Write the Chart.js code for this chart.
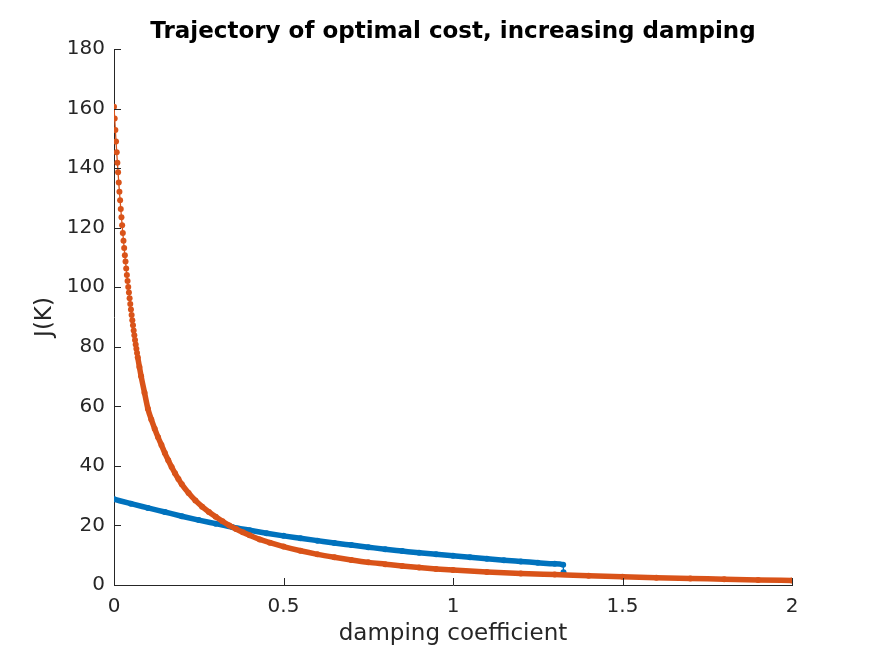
<!DOCTYPE html>
<html>
<head>
<meta charset="utf-8">
<script src="https://cdn.jsdelivr.net/npm/chart.js@4/dist/chart.umd.min.js"></script>
<style>
  html, body { margin: 0; padding: 0; background: #ffffff; }
  #wrap { width: 875px; height: 656px; }
</style>
</head>
<body>
<div id="wrap"><canvas id="c" width="875" height="656"></canvas></div>
<script>
const titleText = "Trajectory of optimal cost, increasing damping";
const xLabel = "damping coefficient";
const yLabel = "J(K)";
const xTickValues = [0, 0.5, 1, 1.5, 2];
const yTickValues = [0, 20, 40, 60, 80, 100, 120, 140, 160, 180];

const blueX = [0, 0.05, 0.1, 0.15, 0.2, 0.25, 0.3, 0.35, 0.4, 0.45, 0.5, 0.55, 0.6, 0.65, 0.7, 0.75, 0.8, 0.85, 0.9, 0.95, 1.0, 1.05, 1.1, 1.15, 1.2, 1.25, 1.3, 1.325, 1.326];
const blueY = [28.8, 27.3, 25.9, 24.5, 23.1, 21.8, 20.6, 19.4, 18.4, 17.4, 16.5, 15.7, 14.9, 14.1, 13.4, 12.7, 12.0, 11.4, 10.8, 10.3, 9.8, 9.3, 8.8, 8.3, 7.9, 7.5, 7.1, 6.8, 4.3];

const orangeX = [0, 0.002, 0.004, 0.006, 0.008, 0.010, 0.012, 0.014, 0.016, 0.018, 0.020, 0.022, 0.024, 0.026, 0.028, 0.030, 0.032, 0.034, 0.036, 0.038, 0.040, 0.042, 0.044, 0.046, 0.048,
  0.050, 0.052, 0.054, 0.056, 0.058, 0.060, 0.062, 0.064, 0.066, 0.068, 0.070,
  0.075, 0.08, 0.09, 0.1,
  0.11, 0.12, 0.13, 0.14, 0.15, 0.16, 0.17, 0.18, 0.19, 0.2,
  0.22, 0.24, 0.26, 0.28, 0.3, 0.32, 0.34, 0.36, 0.38, 0.4,
  0.43, 0.46, 0.5,
  0.55, 0.6, 0.65, 0.7, 0.75, 0.8, 0.85, 0.9, 0.95, 1.0,
  1.1, 1.2, 1.3, 1.4, 1.5, 1.6, 1.7, 1.8, 1.9, 2.0];
const orangeY = [160.6, 156.7, 152.8, 148.9, 145.3, 141.8, 138.6, 135.2, 132.1, 129.2, 126.3, 123.5, 120.8, 118.2, 115.6, 113.2, 110.7, 108.6, 106.3, 104.1, 102.1, 100.1, 98.2, 96.3, 94.4,
  92.5, 90.7, 88.9, 87.2, 85.5, 83.9, 82.3, 80.8, 79.3, 77.9, 76.5,
  73.2, 70.1, 64.6, 59.2,
  55.6, 52.5, 49.6, 47.0, 44.3, 41.9, 39.6, 37.5, 35.6, 33.8,
  30.9, 28.4, 26.3, 24.5, 22.9, 21.4, 20.0, 18.8, 17.7, 16.7,
  15.3, 14.2, 12.9,
  11.5, 10.3, 9.3, 8.4, 7.6, 7.0, 6.4, 5.9, 5.4, 5.0,
  4.4, 3.9, 3.5, 3.1, 2.75, 2.45, 2.2, 1.95, 1.7, 1.5];

const BLUE = '#0072BD';
const ORANGE = '#D95319';
const AXIS = '#262626';
const FONT = "'DejaVu Sans', 'Liberation Sans', sans-serif";

function toPoints(xs, ys) { return xs.map((x, i) => ({ x: x, y: ys[i] })); }
function segWidth(ctx) { return Math.abs(ctx.p1.x - ctx.p0.x) < 1.2 ? 1.3 : 5.5; }

const inwardTicks = {
  id: 'inwardTicks',
  afterDraw(chart) {
    const c = chart.ctx, a = chart.chartArea;
    const xs = chart.scales.x, ys = chart.scales.y;
    c.save();
    c.strokeStyle = AXIS; c.lineWidth = 1;
    c.beginPath();
    xTickValues.forEach(v => { const px = Math.round(xs.getPixelForValue(v)) + 0.5; c.moveTo(px, a.bottom); c.lineTo(px, a.bottom - 7); });
    yTickValues.forEach(v => { const py = Math.round(ys.getPixelForValue(v)) + 0.5; c.moveTo(a.left, py); c.lineTo(a.left + 7, py); });
    c.stroke();
    c.restore();
  }
};

new Chart(document.getElementById('c'), {
  type: 'line',
  data: {
    datasets: [
      { label: 'orange', data: toPoints(orangeX, orangeY), borderColor: ORANGE, backgroundColor: ORANGE,
        pointRadius: 3, pointBorderWidth: 0, pointBackgroundColor: ORANGE, borderWidth: 5.5,
        cubicInterpolationMode: 'monotone', segment: { borderWidth: segWidth } },
      { label: 'blue', data: toPoints(blueX, blueY), borderColor: BLUE, backgroundColor: BLUE,
        pointRadius: 3, pointBorderWidth: 0, pointBackgroundColor: BLUE, borderWidth: 5.5,
        cubicInterpolationMode: 'monotone', segment: { borderWidth: segWidth } }
    ]
  },
  options: {
    responsive: false, animation: false, devicePixelRatio: 1,
    layout: { padding: { left: 0, right: 83, top: 0, bottom: 0 } },
    plugins: {
      legend: { display: false }, tooltip: { enabled: false },
      title: { display: true, text: titleText, fullSize: false, color: '#000000',
        font: { family: FONT, size: 23, weight: 'bold' }, padding: { top: 18.4, bottom: 3.0 } }
    },
    scales: {
      x: { type: 'linear', min: 0, max: 2,
        afterBuildTicks: s => { s.ticks = xTickValues.map(v => ({ value: v })); },
        afterFit: s => { s.height = 71; },
        grid: { display: false }, border: { display: true, color: AXIS, width: 1 },
        ticks: { color: AXIS, padding: 2, maxRotation: 0, font: { family: FONT, size: 20 }, callback: v => String(v) },
        title: { display: true, text: xLabel, color: AXIS, font: { family: FONT, size: 23 }, padding: { top: 0, bottom: 8.2 } } },
      y: { type: 'linear', min: 0, max: 180,
        afterBuildTicks: s => { s.ticks = yTickValues.map(v => ({ value: v })); },
        afterFit: s => { s.width = 114; },
        grid: { display: false }, border: { display: true, color: AXIS, width: 1 },
        ticks: { color: AXIS, padding: 1, font: { family: FONT, size: 20 }, callback: v => String(v) },
        title: { display: true, text: yLabel, color: AXIS, font: { family: FONT, size: 23 }, padding: { top: 31.2, bottom: 0 } } }
    }
  },
  plugins: [inwardTicks]
});
</script>
</body>
</html>
